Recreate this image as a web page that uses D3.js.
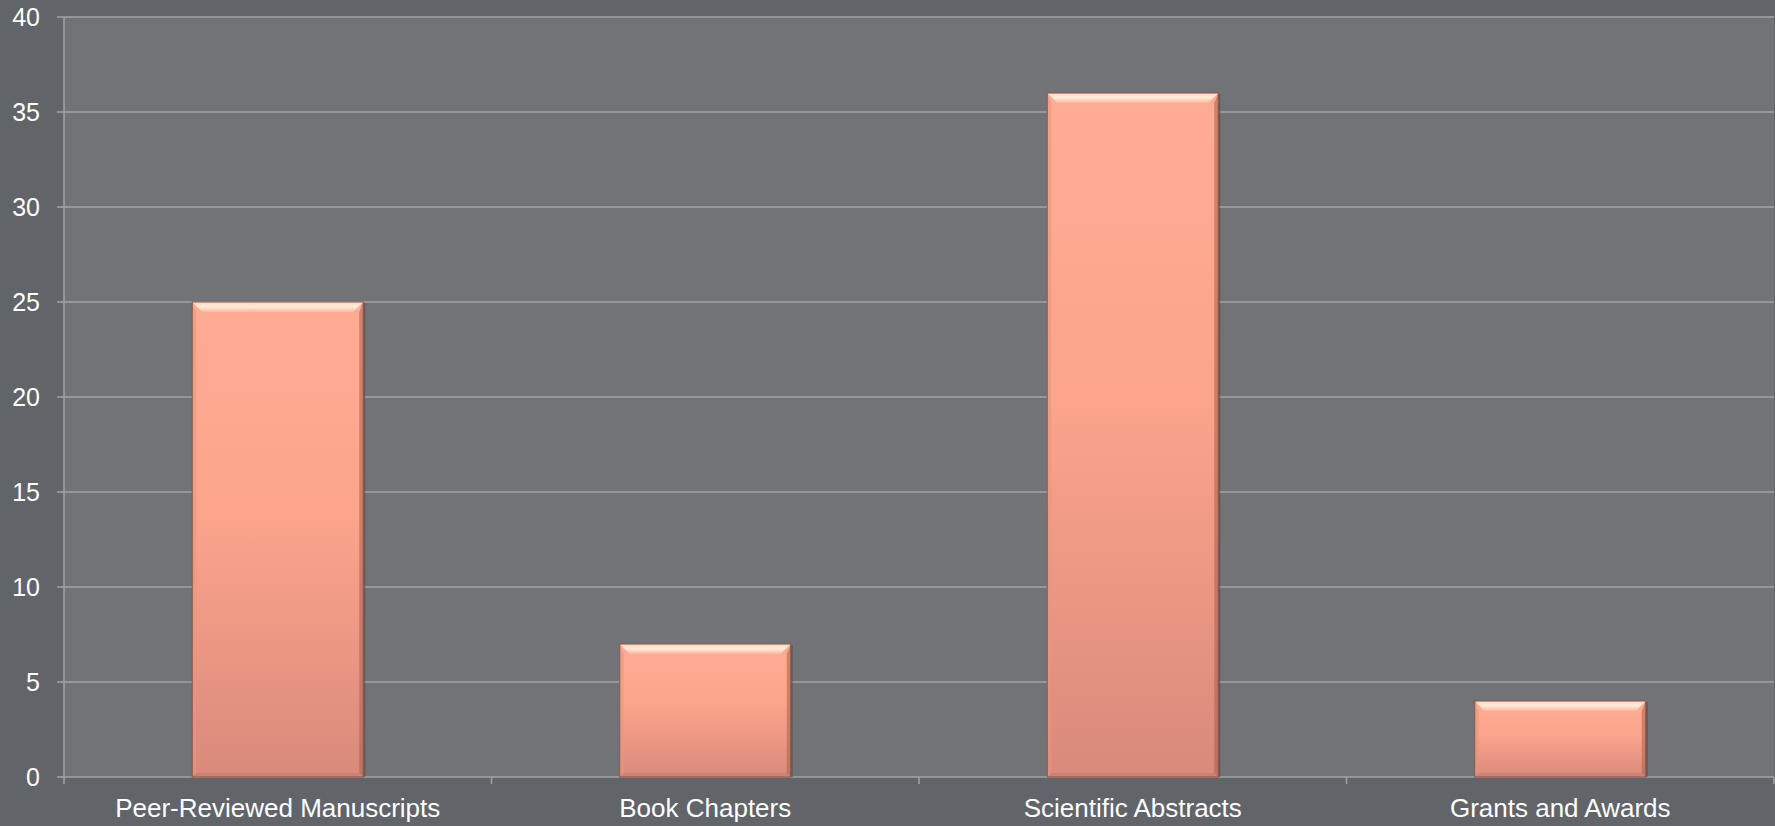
<!DOCTYPE html>
<html>
<head>
<meta charset="utf-8">
<script src="https://cdn.jsdelivr.net/npm/d3@7"></script>
<style>
  body { margin: 0; background: #616469; }
  svg { display: block; }
  text { font-family: "Liberation Sans", Arial, sans-serif; fill: #ffffff; }
</style>
</head>
<body>
<div id="chart"></div>
<script>
const width = 1775
const height = 826
const margin = { top: 17, bottom: 49, right: 1, left: 64 }

const categories = ["Peer-Reviewed Manuscripts", "Book Chapters", "Scientific Abstracts", "Grants and Awards"]
const values = [25, 7, 36, 4]
const yTicks = [0, 5, 10, 15, 20, 25, 30, 35, 40]

const innerW = width - margin.left - margin.right
const innerH = height - margin.top - margin.bottom

const svg = d3.select("div#chart").append("svg").attr("width", width).attr("height", height)

const defs = svg.append("defs")
const grad = defs.append("linearGradient").attr("id", "barFill").attr("x1", 0).attr("y1", 0).attr("x2", 0).attr("y2", 1)
grad.append("stop").attr("offset", "0%").attr("stop-color", "#ffac94")
grad.append("stop").attr("offset", "45%").attr("stop-color", "#fca48c")
grad.append("stop").attr("offset", "100%").attr("stop-color", "#d98a7b")

const topGrad = defs.append("linearGradient").attr("id", "topFill").attr("x1", 0).attr("y1", 0).attr("x2", 0).attr("y2", 1)
topGrad.append("stop").attr("offset", "0%").attr("stop-color", "#ffd9c2")
topGrad.append("stop").attr("offset", "45%").attr("stop-color", "#fff4e0")
topGrad.append("stop").attr("offset", "100%").attr("stop-color", "#ffb9a0")

const g = svg.append("g").attr("transform", `translate(${margin.left}, ${margin.top})`)

// plot area background
g.append("rect").attr("width", innerW).attr("height", innerH).attr("fill", "#727377")

const x = d3.scaleBand().domain(categories).range([0, innerW]).padding(0)
const y = d3.scaleLinear().domain([0, 40]).range([innerH, 0])

// gridlines
g.selectAll(".grid").data(yTicks).enter()
  .append("line")
  .attr("class", "grid")
  .attr("x1", -7).attr("x2", innerW)
  .attr("y1", d => y(d)).attr("y2", d => y(d))
  .attr("stroke", "#a2a3a6").attr("stroke-width", 1.5)

// y axis line
g.append("line").attr("x1", 0).attr("x2", 0).attr("y1", 0).attr("y2", innerH + 7)
  .attr("stroke", "#a2a3a6").attr("stroke-width", 1.5)

// x category tick marks
g.selectAll(".xtick").data(categories).enter()
  .append("line")
  .attr("x1", d => x(d) + x.bandwidth()).attr("x2", d => x(d) + x.bandwidth())
  .attr("y1", innerH).attr("y2", innerH + 7)
  .attr("stroke", "#a2a3a6").attr("stroke-width", 1.5)

// y labels
g.selectAll(".ylab").data(yTicks).enter()
  .append("text")
  .attr("x", -24).attr("y", d => y(d))
  .attr("dy", "0.35em")
  .attr("text-anchor", "end")
  .attr("font-size", 25)
  .text(d => d)

// x labels
g.selectAll(".xlab").data(categories).enter()
  .append("text")
  .attr("x", d => x(d) + x.bandwidth() / 2)
  .attr("y", innerH + 40)
  .attr("text-anchor", "middle")
  .attr("font-size", 26)
  .text(d => d)

// bars
const barW = x.bandwidth() * 0.4
const bev = 10
const side = 4
const bars = g.selectAll(".bar").data(values.map((v, i) => ({ cat: categories[i], v }))).enter()
  .append("g").attr("class", "bar")
  .attr("transform", d => `translate(${x(d.cat) + (x.bandwidth() - barW) / 2}, ${y(d.v)})`)

// soft shadow
bars.append("rect")
  .attr("x", 2).attr("y", 1)
  .attr("width", barW).attr("height", d => innerH - y(d.v) - 1)
  .attr("fill", "#4a403e").attr("opacity", 0.5)

bars.append("rect")
  .attr("width", barW).attr("height", d => innerH - y(d.v))
  .attr("fill", "url(#barFill)")

// bevel: top highlight
bars.append("path")
  .attr("d", `M0,0 L${barW},0 L${barW - bev},${bev} L${bev},${bev} Z`)
  .attr("fill", "url(#topFill)").attr("opacity", 0.9)
// left edge
bars.append("path")
  .attr("d", d => { const h = innerH - y(d.v); return `M0,0 L${side},${Math.min(bev, h / 2)} L${side},${h - side} L0,${h} Z` })
  .attr("fill", "#e89682").attr("opacity", 0.6)
// right edge
bars.append("path")
  .attr("d", d => { const h = innerH - y(d.v); return `M${barW},0 L${barW - side},${Math.min(bev, h / 2)} L${barW - side},${h - side} L${barW},${h} Z` })
  .attr("fill", "#a8604f").attr("opacity", 0.55)
// bottom edge
bars.append("path")
  .attr("d", d => { const h = innerH - y(d.v); return `M0,${h} L${side},${h - side} L${barW - side},${h - side} L${barW},${h} Z` })
  .attr("fill", "#c27a6b").attr("opacity", 0.5)
// outline
bars.append("rect")
  .attr("width", barW).attr("height", d => innerH - y(d.v))
  .attr("fill", "none").attr("stroke", "#86574b").attr("stroke-width", 1)
</script>
</body>
</html>
